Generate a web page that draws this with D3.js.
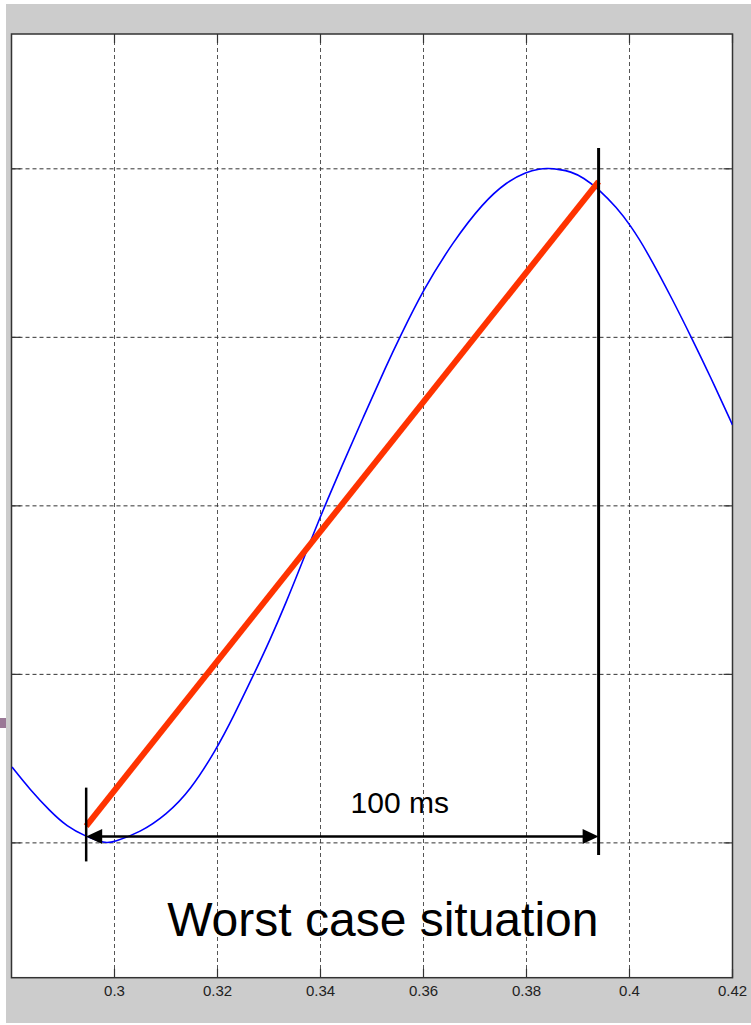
<!DOCTYPE html>
<html>
<head>
<meta charset="utf-8">
<script src="https://cdn.jsdelivr.net/npm/d3@7"></script>
<style>
  html, body { margin: 0; padding: 0; background: #fff; }
  svg { display: block; }
  text { font-family: "Liberation Sans", Arial, sans-serif; }
</style>
</head>
<body>
<div id="chart"></div>
<script>
var W = 751, H = 1025;

// blue signal (time in s, amplitude)
var sigX = [0.2801, 0.2836, 0.2875, 0.2907, 0.2946, 0.2972, 0.2985, 0.2997, 0.3050, 0.3101, 0.3147,
            0.3198, 0.3230, 0.3269, 0.3302, 0.3334, 0.3360, 0.3385, 0.3399, 0.3412, 0.3438,
            0.3483, 0.3529, 0.3554, 0.3599, 0.3657, 0.3716, 0.3762, 0.3800, 0.3826, 0.3840, 0.3865,
            0.3885, 0.3910, 0.3943, 0.3975, 0.4001, 0.4033, 0.4085, 0.4121, 0.4156, 0.4200];
var sigY = [-0.775, -0.842, -0.906, -0.951, -0.982, -0.996, -1.000, -0.998, -0.969, -0.916, -0.845,
            -0.722, -0.628, -0.505, -0.398, -0.284, -0.185, -0.088, -0.035, 0.012, 0.106,
            0.263, 0.420, 0.500, 0.640, 0.783, 0.900, 0.962, 0.991, 1.000, 1.002, 0.998,
            0.992, 0.975, 0.936, 0.885, 0.834, 0.758, 0.608, 0.497, 0.387, 0.240];

var xTicks = [0.30, 0.32, 0.34, 0.36, 0.38, 0.40, 0.42];
var xTickLabels = ["0.3", "0.32", "0.34", "0.36", "0.38", "0.4", "0.42"];
var yGrid = [-1, -0.5, 0, 0.5, 1];

// red secant and the 100 ms markers
var redX = [0.2945, 0.3940];
var redY = [-0.950, 0.962];
var leftMark = { x: 0.2945, y0: -0.836, y1: -1.055 };
var rightMark = { x: 0.3940, y0: 1.062, y1: -1.036 };
var arrowY = -0.981;
var spanLabel = { text: "100 ms", x: 0.3554, y: -0.911 };
var caption = { text: "Worst case situation", x: 0.3521, y: -1.276 };

var svg = d3.select("#chart").append("svg")
  .attr("width", W)
  .attr("height", H);

// gray figure panel
svg.append("rect")
  .attr("x", 6).attr("y", 4)
  .attr("width", W - 6).attr("height", H - 6)
  .attr("fill", "#cccccc");

// little purple mark at the left edge
svg.append("rect")
  .attr("x", 0).attr("y", 718)
  .attr("width", 6).attr("height", 10)
  .attr("fill", "#9a7896");

var pL = 11.5, pR = 732.5, pT = 34, pB = 977.7;

var x = d3.scaleLinear().domain([0.28, 0.42]).range([pL, pR]);
var y = d3.scaleLinear().domain([-1.4, 1.4]).range([pB, pT]);

svg.append("rect")
  .attr("x", pL).attr("y", pT)
  .attr("width", pR - pL).attr("height", pB - pT)
  .attr("fill", "#fff");

// grid
svg.selectAll(".vgrid")
  .data(xTicks)
  .enter().append("line")
    .attr("class", "vgrid")
    .attr("x1", function(d){ return x(d); })
    .attr("x2", function(d){ return x(d); })
    .attr("y1", pT).attr("y2", pB)
    .attr("stroke", "#555")
    .attr("stroke-width", 1)
    .attr("stroke-dasharray", "4,3");

svg.selectAll(".hgrid")
  .data(yGrid)
  .enter().append("line")
    .attr("class", "hgrid")
    .attr("x1", pL).attr("x2", pR)
    .attr("y1", function(d){ return y(d); })
    .attr("y2", function(d){ return y(d); })
    .attr("stroke", "#333")
    .attr("stroke-width", 1)
    .attr("stroke-dasharray", "4,3");

// solid tick marks, inside the frame
var tk = 9;
xTicks.forEach(function(d){
  svg.append("line").attr("x1", x(d)).attr("x2", x(d)).attr("y1", pB).attr("y2", pB - tk)
    .attr("stroke", "#333").attr("stroke-width", 1.2);
  svg.append("line").attr("x1", x(d)).attr("x2", x(d)).attr("y1", pT).attr("y2", pT + tk)
    .attr("stroke", "#333").attr("stroke-width", 1.2);
});
yGrid.forEach(function(d){
  svg.append("line").attr("x1", pL).attr("x2", pL + tk).attr("y1", y(d)).attr("y2", y(d))
    .attr("stroke", "#333").attr("stroke-width", 1.2);
  svg.append("line").attr("x1", pR).attr("x2", pR - tk).attr("y1", y(d)).attr("y2", y(d))
    .attr("stroke", "#333").attr("stroke-width", 1.2);
});

// frame
svg.append("rect")
  .attr("x", pL).attr("y", pT)
  .attr("width", pR - pL).attr("height", pB - pT)
  .attr("fill", "none")
  .attr("stroke", "#333")
  .attr("stroke-width", 1.5);

// tick labels
svg.selectAll(".xlab")
  .data(xTicks)
  .enter().append("text")
    .attr("class", "xlab")
    .attr("x", function(d){ return x(d); })
    .attr("y", 996)
    .attr("text-anchor", "middle")
    .attr("font-size", 15)
    .attr("fill", "#222")
    .text(function(d, i){ return xTickLabels[i]; });

// clip for the signal
svg.append("clipPath").attr("id", "plotclip")
  .append("rect")
    .attr("x", pL).attr("y", pT)
    .attr("width", pR - pL).attr("height", pB - pT);

var pts = sigX.map(function(d, i){ return [d, sigY[i]]; });
var line = d3.line()
  .x(function(d){ return x(d[0]); })
  .y(function(d){ return y(d[1]); })
  .curve(d3.curveBasis);

svg.append("path")
  .datum(pts)
  .attr("clip-path", "url(#plotclip)")
  .attr("d", line)
  .attr("fill", "none")
  .attr("stroke", "#0000ff")
  .attr("stroke-width", 1.6);

// red secant
svg.append("line")
  .attr("x1", x(redX[0])).attr("y1", y(redY[0]))
  .attr("x2", x(redX[1])).attr("y2", y(redY[1]))
  .attr("stroke", "#ff3300")
  .attr("stroke-width", 6);

// vertical markers
svg.append("line")
  .attr("x1", x(leftMark.x)).attr("x2", x(leftMark.x))
  .attr("y1", y(leftMark.y0)).attr("y2", y(leftMark.y1))
  .attr("stroke", "#000").attr("stroke-width", 2.5);
svg.append("line")
  .attr("x1", x(rightMark.x)).attr("x2", x(rightMark.x))
  .attr("y1", y(rightMark.y0)).attr("y2", y(rightMark.y1))
  .attr("stroke", "#000").attr("stroke-width", 3);

// double arrow
var ax0 = x(leftMark.x), ax1 = x(rightMark.x), ay = y(arrowY);
var hl = 16, hw = 7.5;
svg.append("line")
  .attr("x1", ax0 + hl - 2).attr("x2", ax1 - hl + 2)
  .attr("y1", ay).attr("y2", ay)
  .attr("stroke", "#000").attr("stroke-width", 2.6);
svg.append("path")
  .attr("d", "M" + ax0 + "," + ay + "L" + (ax0 + hl) + "," + (ay - hw) + "L" + (ax0 + hl) + "," + (ay + hw) + "Z")
  .attr("fill", "#000");
svg.append("path")
  .attr("d", "M" + ax1 + "," + ay + "L" + (ax1 - hl) + "," + (ay - hw) + "L" + (ax1 - hl) + "," + (ay + hw) + "Z")
  .attr("fill", "#000");

// labels
svg.append("text")
  .attr("x", x(spanLabel.x)).attr("y", y(spanLabel.y))
  .attr("text-anchor", "middle")
  .attr("font-size", 30)
  .attr("fill", "#000")
  .text(spanLabel.text);

svg.append("text")
  .attr("x", x(caption.x)).attr("y", y(caption.y))
  .attr("text-anchor", "middle")
  .attr("font-size", 48)
  .attr("fill", "#000")
  .text(caption.text);
</script>
</body>
</html>
